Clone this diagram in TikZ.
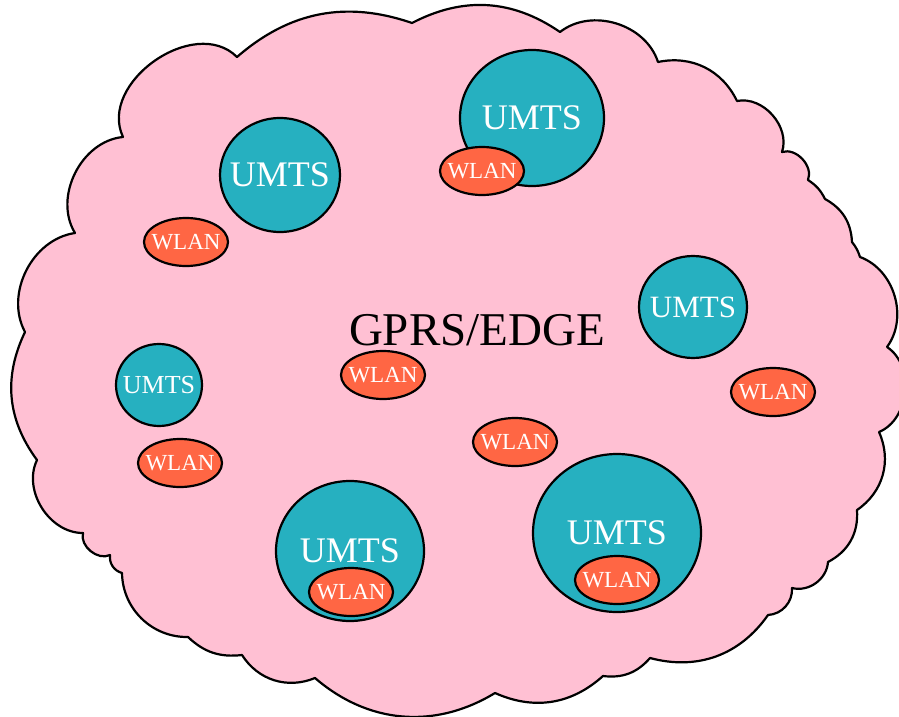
\documentclass[tikz,border=0pt]{standalone}
\usepackage{fontspec}
\setmainfont{Liberation Serif}
\usepackage{xcolor}
\usepackage{tikz}
\usetikzlibrary{shapes.geometric}
\definecolor{cloudpink}{RGB}{255, 192, 211}
\definecolor{umtsteal}{RGB}{38, 176, 192}
\definecolor{wlanred}{RGB}{255, 102, 68}
\tikzset{
    cloud/.style={draw=black, fill=cloudpink, line width=2.2pt, line join=round},
    umts/.style={ellipse, draw=black, fill=umtsteal, line width=2.2pt, text=white, inner sep=-10pt},
    wlan/.style={ellipse, draw=black, fill=wlanred, line width=2.2pt, text=white, inner xsep=-6pt,
        minimum width=84pt, minimum height=48pt, font=\fontsize{23}{23}\selectfont}
}
\newcommand{\umtsfont}[1]{\fontsize{#1}{#1}\selectfont}

\begin{document}
\begin{tikzpicture}[x=1pt, y=-1pt]
    \useasboundingbox (0,0) rectangle (899,717);
    % GPRS/EDGE coverage
    \draw[cloud] (412,23) to[bend left=31] (560,32) to[bend left=55] (658,62)
        to[bend left=38] (737,101) to[bend left=60] (782,152) to[bend left=65] (808,180)
        to[bend left=15] (825,199) to[bend left=29] (852,242) to[bend left=10] (860,257)
        to[bend left=53] (887,347) to[bend left=62] (879,432) to[bend left=40] (857,510)
        to[bend left=33] (828,562) to[bend left=50] (792,588) to[bend left=45] (768,615)
        to[bend left=35] (650,658) to[bend left=28] (603,676) to[bend left=33] (495,693)
        to[bend left=36] (315,678) to[bend left=40] (242,655) to[bend left=25] (188,637)
        to[bend left=45] (122,573) to[bend left=40] (110,555) to[bend left=65] (83,533)
        to[bend left=58] (37,460) to[bend left=31] (25,332) to[bend left=55] (75,233)
        to[bend left=58] (123,137) to[bend left=80, looseness=1.1] (237,57)
        to[bend left=30] (412,23) -- cycle;
    \node[font=\umtsfont{47}] (gprs) at (477,330) {GPRS/EDGE};

    % UMTS cells
    \node[umts, minimum width=120pt, minimum height=114pt, font=\umtsfont{36}] (umtsA) at (280,175) {UMTS};
    \node[umts, minimum width=144pt, minimum height=136pt, font=\umtsfont{36}] (umtsB) at (532,118) {UMTS};
    \node[umts, minimum width=108pt, minimum height=102pt, font=\umtsfont{31}] (umtsC) at (693,307) {UMTS};
    \node[umts, minimum width=86pt, minimum height=82pt, font=\umtsfont{26}] (umtsD) at (159,385) {UMTS};
    \node[umts, minimum width=148pt, minimum height=140pt, font=\umtsfont{36}] (umtsE) at (350,551) {UMTS};
    \node[umts, minimum width=168pt, minimum height=158pt, font=\umtsfont{36}] (umtsF) at (617,533) {UMTS};

    % WLAN hotspots
    \node[wlan] (wlanA) at (186,242) {WLAN};
    \node[wlan] (wlanB) at (482,171) {WLAN};
    \node[wlan] (wlanC) at (383,375) {WLAN};
    \node[wlan] (wlanD) at (773,392) {WLAN};
    \node[wlan] (wlanE) at (515,442) {WLAN};
    \node[wlan] (wlanF) at (180,463) {WLAN};
    \node[wlan] (wlanG) at (351,592) {WLAN};
    \node[wlan] (wlanH) at (617,580) {WLAN};
\end{tikzpicture}
\end{document}
